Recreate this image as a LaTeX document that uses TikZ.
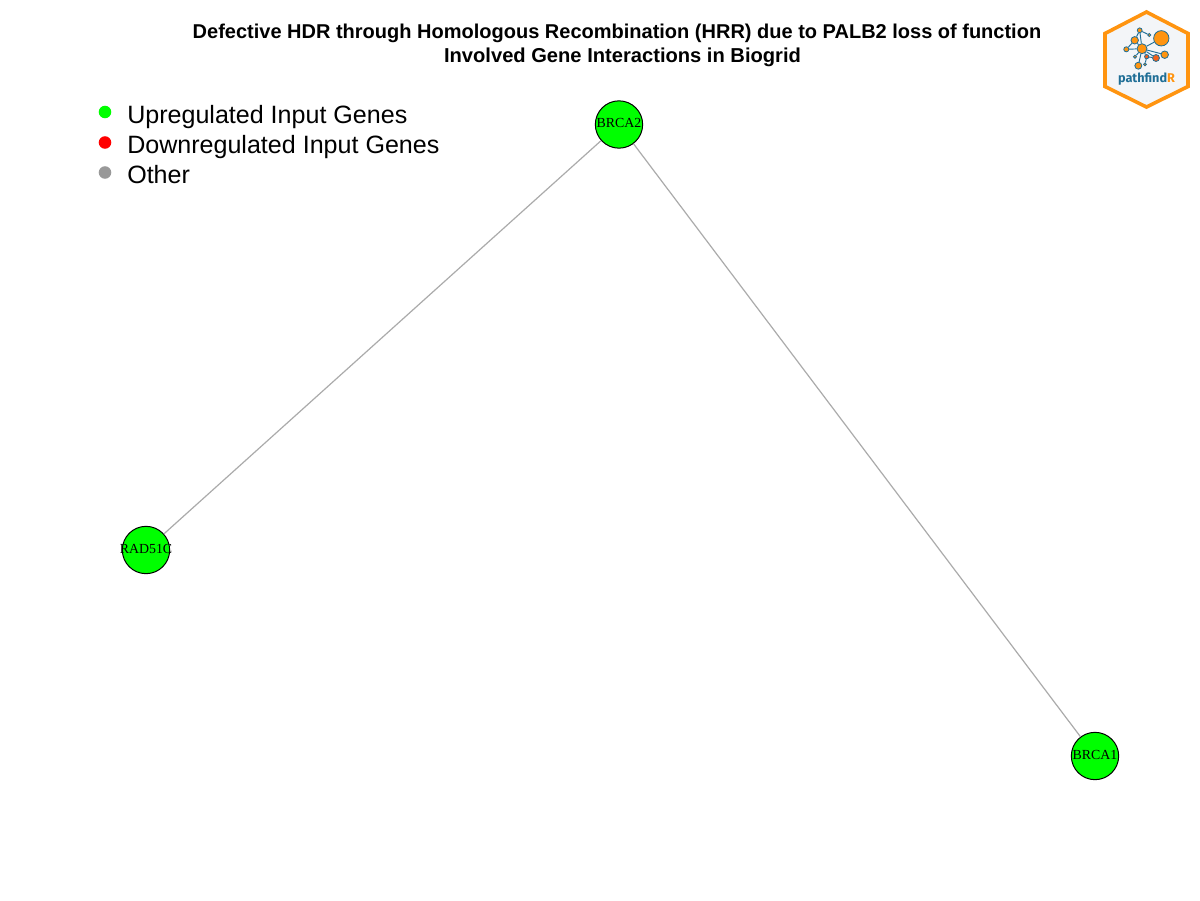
\documentclass[tikz,border=0pt]{standalone}
\usepackage{fontspec}
\setmainfont{Liberation Sans}
\newfontfamily\serifgene{Liberation Serif}
\newfontfamily\logofont{Fira Sans}
\definecolor{edgegray}{HTML}{ABABAB}
\definecolor{legendgray}{HTML}{999999}
\definecolor{logoorange}{HTML}{FF9410}
\definecolor{logoblue}{HTML}{1F6E96}
\definecolor{logored}{HTML}{F4601A}
\definecolor{logofill}{HTML}{F3F5F8}
\tikzset{
  gene/.style={circle,draw=black,fill=green,line width=0.75pt,minimum size=35.5pt,inner sep=0pt},
  genelabel/.style={inner sep=0pt,font=\serifgene\fontsize{10.4}{10.4}\selectfont,text=black},
  edgeline/.style={draw=edgegray,line width=0.9pt},
  dotmark/.style={circle,minimum size=9.4pt,inner sep=0pt},
  legendtext/.style={anchor=base west,inner sep=0pt,font=\fontsize{18.8}{22}\selectfont},
  titletext/.style={anchor=base,inner sep=0pt,font=\bfseries\fontsize{15}{18}\selectfont},
  bub/.style={circle,draw=logoblue,fill=logoorange,line width=0.6pt,inner sep=0pt},
  bubred/.style={bub,fill=logored},
  logolink/.style={draw=logoblue,line width=0.7pt}
}
\begin{document}
\begin{tikzpicture}[x=0.75pt,y=-0.75pt]
\useasboundingbox (0,0) rectangle (1200,900);
\fill[white] (0,0) rectangle (1200,900);
% title
\node[titletext] (t1) at (617,38.2) {Defective HDR through Homologous Recombination (HRR) due to PALB2 loss of function};
\node[titletext,font=\bfseries\fontsize{15.1}{18}\selectfont] (t2) at (622.5,62.2) {Involved Gene Interactions in Biogrid};
% legend
\node[dotmark,fill=green] (d1) at (105,112) {};
\node[dotmark,fill=red] (d2) at (105,142.5) {};
\node[dotmark,fill=legendgray] (d3) at (105,172.5) {};
\node[legendtext] (l1) at (127,123) {Upregulated Input Genes};
\node[legendtext] (l2) at (127,153) {Downregulated Input Genes};
\node[legendtext] (l3) at (127,183) {Other};
% graph
\node[gene] (brca2) at (619,124.5) {};
\node[gene] (rad51c) at (146,550) {};
\node[gene] (brca1) at (1095,756) {};
\draw[edgeline] (brca2) -- (rad51c);
\draw[edgeline] (brca2) -- (brca1);
\node[genelabel] (lb2) at (619,123) {BRCA2};
\node[genelabel] (lr) at (146,549) {RAD51C};
\node[genelabel] (lb1) at (1095,755) {BRCA1};
% logo
\draw[logoorange,fill=logofill,line width=2.7pt,miter limit=10] (1146.5,12) -- (1188,33.5) -- (1188,86.5) -- (1146.5,107) -- (1105,86.5) -- (1105,33.5) -- cycle;
\node[bub,minimum size=11.5pt] (n1) at (1161.3,38.3) {};
\node[bub,minimum size=7.5pt] (n2) at (1142,48.7) {};
\node[bub,minimum size=5.6pt] (n3) at (1134.7,40.3) {};
\node[bub,minimum size=3.8pt] (n4) at (1126.3,49.3) {};
\node[bub,minimum size=3.6pt] (n5) at (1139.7,30.3) {};
\node[bub,minimum size=2.4pt] (n6) at (1149.3,35) {};
\node[bub,minimum size=5.6pt] (n7) at (1164.7,54.7) {};
\node[bubred,minimum size=5.2pt] (n8) at (1156,58) {};
\node[bubred,minimum size=3.2pt] (n9) at (1146.7,56.7) {};
\node[bub,minimum size=5.2pt] (n10) at (1138.3,65.7) {};
\node[bub,minimum size=2.4pt] (n11) at (1135,56.7) {};
\node[bub,minimum size=2.2pt] (n12) at (1145,64.3) {};
\draw[logolink] (n2)--(n1) (n2)--(n3) (n2)--(n4) (n2)--(n5) (n3)--(n5) (n5)--(n6) (n2)--(n7) (n2)--(n8) (n2)--(n9) (n2)--(n10) (n2)--(n11) (n9)--(n12) (n9)--(n8) (n3)--(n4);
\node[inner sep=0pt,font=\logofont\bfseries\fontsize{9.5}{10}\selectfont] (lg) at (1146.5,79) {\textcolor{logoblue}{pathfind}\textcolor{logoorange}{R}};
\end{tikzpicture}
\end{document}
